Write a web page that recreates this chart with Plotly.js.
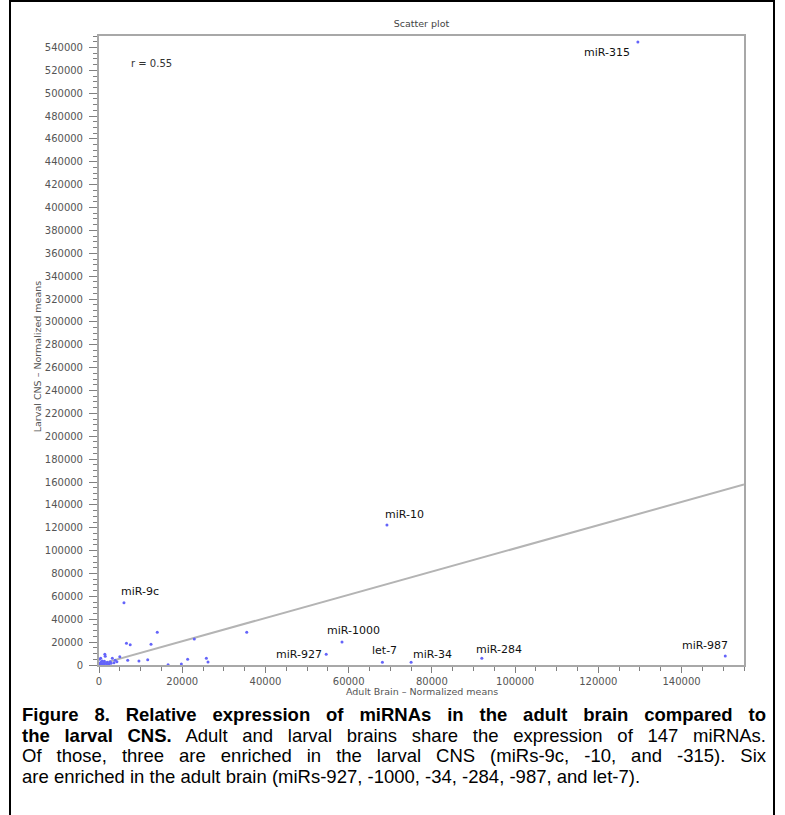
<!DOCTYPE html>
<html>
<head>
<meta charset="utf-8">
<script src="https://cdn.plot.ly/plotly-3.0.1.min.js"></script>
<style>
  html, body { margin: 0; padding: 0; background: #fff; overflow: hidden; }
  #wrap { position: relative; width: 785px; height: 815px; }
  #chart { position: absolute; left: 0; top: 0; width: 785px; height: 815px; }
  #frame { position: absolute; left: 9px; top: 0px; width: 766px; height: 850px; border: 2px solid #000; pointer-events: none; box-sizing: border-box; }
  #caption { position: absolute; left: 22px; top: 705px; width: 744px; font-family: "Liberation Sans", Arial, sans-serif; font-size: 18.5px; line-height: 20.7px; color: #000; }
  #caption .ln { text-align: justify; text-align-last: justify; white-space: nowrap; }
  #caption .last { text-align: left; text-align-last: left; white-space: nowrap; }
</style>
</head>
<body>
<div id="wrap">
  <div id="chart"></div>
  <div id="caption">
    <div class="ln"><b>Figure 8. Relative expression of miRNAs in the adult brain compared to</b></div>
    <div class="ln"><b>the larval CNS.</b> Adult and larval brains share the expression of 147 miRNAs.</div>
    <div class="ln">Of those, three are enriched in the larval CNS (miRs-9c, -10, and -315). Six</div>
    <div class="last">are enriched in the adult brain (miRs-927, -1000, -34, -284, -987, and let-7).</div>
  </div>
  <div id="frame"></div>
</div>
<script>
// ---- data ----
const labeledNames = ['miR-315', 'miR-10', 'miR-9c', 'miR-1000', 'miR-927', 'let-7', 'miR-34', 'miR-284', 'miR-987'];
const labeledX = [129500, 69200, 6000, 58400, 54600, 68100, 75000, 92000, 150500];
const labeledY = [544800, 122400, 54500, 20100, 9400, 2400, 2400, 5900, 7900];

const otherX = [6600, 7500, 14000, 12500, 22900, 35500, 6900, 9600, 11700, 5000, 3200, 3900, 1400, 1500, 400, 100, 800, 2000, 2700, 1200, 2400, 3600, 16600, 19800, 21300, 25800, 26200, 200, 4300,
                300, 600, 900, 1100, 1700, 2200, 2900, 500, 1300, 1900];
const otherY = [19000, 17800, 28600, 18100, 22700, 28600, 4100, 3500, 4600, 7300, 5900, 4100, 9400, 7600, 5900, 5000, 3500, 2400, 2900, 900, 900, 2000, 300, 900, 5000, 5900, 2600, 1500, 2900,
                300, 1100, 400, 2000, 1300, 500, 1600, 2600, 3300, 200];

const fitX = [0, 155000];
const fitY = [500, 157800];
const rText = 'r = 0.55';

const titleText = 'Scatter plot';
const xTitle = 'Adult Brain \u2013 Normalized means';
const yTitle = 'Larval CNS \u2013 Normalized means';

// ---- style (label offsets in px) ----
const labelShiftX = [-31, 18, 16, 11, -27, 2, 21, 17, -20];
const labelShiftY = [-11, 11, 11, 12, 0, 12, 8, 9, 10];

const dotColor = 'rgb(100,100,250)';
const tickFont = { family: 'DejaVu Sans, sans-serif', size: 10, color: '#555' };

const traces = [
  { x: fitX, y: fitY, mode: 'lines', line: { color: '#b4b4b4', width: 2 }, hoverinfo: 'skip', showlegend: false, cliponaxis: true },
  { x: otherX, y: otherY, mode: 'markers', marker: { color: dotColor, size: 3 }, showlegend: false, cliponaxis: false },
  { x: labeledX, y: labeledY, mode: 'markers', marker: { color: dotColor, size: 3 }, text: labeledNames, showlegend: false, cliponaxis: false }
];

const annotations = labeledNames.map((n, i) => ({
  x: labeledX[i], y: labeledY[i], xref: 'x', yref: 'y', text: n, showarrow: false,
  xanchor: 'center', yanchor: 'middle', xshift: labelShiftX[i], yshift: labelShiftY[i],
  font: { family: 'DejaVu Sans, sans-serif', size: 11, color: '#111' }
}));
annotations.push({ x: 0.047, y: 0.9566, xref: 'paper', yref: 'paper', text: rText, showarrow: false, xanchor: 'left', yanchor: 'middle', font: { family: 'DejaVu Sans, sans-serif', size: 10, color: '#333' } });
annotations.push({ x: 0.5, y: -0.0425, xref: 'paper', yref: 'paper', text: xTitle, showarrow: false, xanchor: 'center', yanchor: 'middle', font: { family: 'DejaVu Sans, sans-serif', size: 9.5, color: '#555' } });
annotations.push({ x: -0.096, y: 0.491, xref: 'paper', yref: 'paper', text: yTitle, showarrow: false, textangle: -90, xanchor: 'center', yanchor: 'middle', font: { family: 'DejaVu Sans, sans-serif', size: 9.5, color: '#555' } });

const axisCommon = {
  showgrid: false, zeroline: false, showline: true, linecolor: '#a8a8a8', linewidth: 2, mirror: true,
  ticks: 'outside', tickcolor: '#808080', tickwidth: 1, tickformat: 'd', tickfont: tickFont, fixedrange: true
};

const layout = {
  width: 785, height: 815,
  margin: { l: 99, r: 41, t: 36, b: 150 },
  paper_bgcolor: '#fff', plot_bgcolor: '#fff',
  title: { text: titleText, x: 0.5, xref: 'paper', y: 1 - 24 / 815, yref: 'container', xanchor: 'center', yanchor: 'middle', font: { family: 'DejaVu Sans, sans-serif', size: 9.5, color: '#444' } },
  xaxis: Object.assign({}, axisCommon, {
    range: [0, 155000], tick0: 0, dtick: 20000, ticklen: 6,
    minor: { dtick: 5000, tick0: 0, ticklen: 4, ticks: 'outside', tickcolor: '#808080', showgrid: false }
  }),
  yaxis: Object.assign({}, axisCommon, {
    range: [0, 550000], tick0: 0, dtick: 20000, ticklen: 8, ticklabelstandoff: 4,
    minor: { dtick: 5000, tick0: 0, ticklen: 4, ticks: 'outside', tickcolor: '#808080', showgrid: false }
  }),
  annotations: annotations,
  showlegend: false
};

Plotly.newPlot('chart', traces, layout, { staticPlot: true, displayModeBar: false });
</script>
</body>
</html>
